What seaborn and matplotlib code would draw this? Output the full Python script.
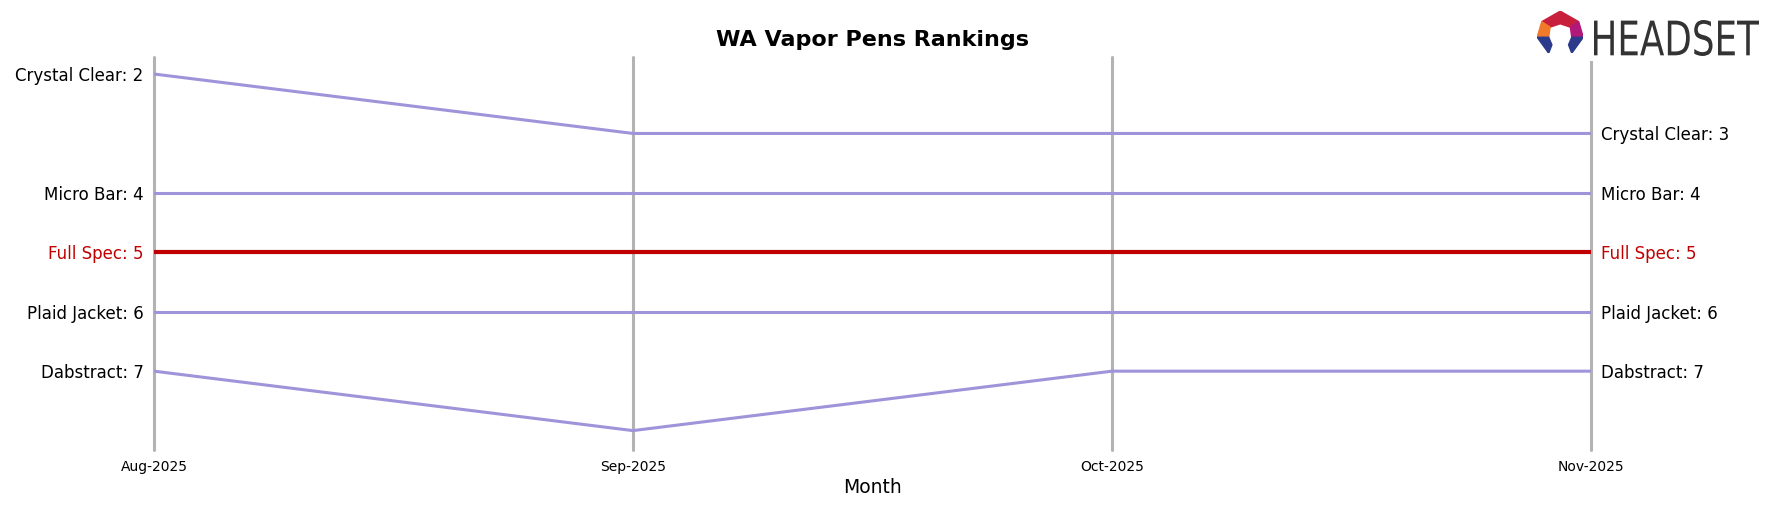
import pandas as pd
import seaborn as sns
import matplotlib.pyplot as plt
from matplotlib.patches import Polygon, PathPatch, Rectangle
from matplotlib.textpath import TextPath
from matplotlib.font_manager import FontProperties
from matplotlib.transforms import Affine2D, IdentityTransform

months = ["Aug-2025", "Sep-2025", "Oct-2025", "Nov-2025"]
brands = ["Crystal Clear", "Micro Bar", "Full Spec", "Plaid Jacket", "Dabstract"]
crystal_clear = [2, 3, 3, 3]
micro_bar = [4, 4, 4, 4]
full_spec = [5, 5, 5, 5]
plaid_jacket = [6, 6, 6, 6]
dabstract = [7, 8, 7, 7]
highlight = "Full Spec"

ranks = dict(zip(brands, [crystal_clear, micro_bar, full_spec, plaid_jacket, dabstract]))
df = pd.DataFrame([
    {"brand": b, "month": m, "x": i, "rank": r}
    for b in brands for i, (m, r) in enumerate(zip(months, ranks[b]))
])

purple = "#9f93da"
red = "#c00000"
palette = {b: (red if b == highlight else purple) for b in brands}

sns.set_style("white")
plt.rcParams["text.color"] = "black"
plt.rcParams["axes.labelcolor"] = "black"
plt.rcParams["xtick.color"] = "black"
fig = plt.figure(figsize=(17.75, 5.07), dpi=100)
ax = fig.add_axes([0.0868, 0.112, 0.8094, 0.776])

for i in range(len(months)):
    ax.axvline(i, color="#b3b3b3", lw=2.2, zorder=1, clip_on=False)

sns.lineplot(data=df[df.brand != highlight], x="x", y="rank", hue="brand",
             palette=palette, lw=2.2, legend=False, ax=ax, zorder=2)
sns.lineplot(data=df[df.brand == highlight], x="x", y="rank", hue="brand",
             palette=palette, lw=3, legend=False, ax=ax, zorder=3)

# labels at both ends
for b in brands:
    c = red if b == highlight else "black"
    first, last = ranks[b][0], ranks[b][-1]
    ax.text(-0.022, first, f"{b}: {first}", ha="right", va="center_baseline", fontsize=12, color=c)
    ax.text(len(months) - 1 + 0.022, last, f"{b}: {last}", ha="left", va="center_baseline",
            fontsize=12, color=c)

ax.set_xlim(0, len(months) - 1)
ax.set_ylim(8.33, 1.71)
ax.set_xticks(range(len(months)))
ax.set_xticklabels(months, fontsize=10)
ax.set_yticks([])
ax.tick_params(axis="x", length=4, width=1, color="black", pad=3)
for s in ax.spines.values():
    s.set_visible(False)
ax.set_xlabel("Month", fontsize=13.5, labelpad=3)
ax.set_ylabel("")
ax.set_title("WA Vapor Pens Rankings", fontsize=16, fontweight="bold", pad=8, color="black")

# headset logo (white box behind it cuts the top of the last gridline)
fig.add_artist(Rectangle((0.86, 0.88), 0.14, 0.12, transform=fig.transFigure,
                         facecolor="white", edgecolor="none", zorder=5))
logo = fig.add_axes([0.866, 0.895, 0.026, 0.083], zorder=6)
logo.set_xlim(0, 1)
logo.set_ylim(0, 1)
logo.axis("off")
logo.add_patch(Polygon([[0.1, 0.75], [0.5, 1.0], [0.9, 0.75], [0.72, 0.62], [0.5, 0.7], [0.28, 0.62]],
                       color="#c8203c"))
logo.add_patch(Polygon([[0.1, 0.75], [0.28, 0.62], [0.25, 0.38], [0.0, 0.38]], color="#f07a2a"))
logo.add_patch(Polygon([[0.9, 0.75], [0.72, 0.62], [0.75, 0.38], [1.0, 0.38]], color="#b0187a"))
logo.add_patch(Polygon([[0.0, 0.38], [0.25, 0.38], [0.32, 0.2], [0.25, 0.0]], color="#2c3a8c"))
logo.add_patch(Polygon([[1.0, 0.38], [0.75, 0.38], [0.68, 0.2], [0.75, 0.0]], color="#2c3a8c"))

# condensed wordmark: DejaVu text squeezed horizontally into the logo box
tp = TextPath((0, 0), "HEADSET", size=100, prop=FontProperties(family="DejaVu Sans"))
bb = tp.get_extents()
x0, x1, y0, y1 = 1594, 1759, 507 - 56, 507 - 20
tr = Affine2D().translate(-bb.x0, -bb.y0).scale((x1 - x0) / bb.width, (y1 - y0) / bb.height).translate(x0, y0)
fig.add_artist(PathPatch(tp, transform=tr + IdentityTransform(), facecolor="#333333",
                         edgecolor="none", zorder=7))

fig.savefig("out.png", dpi=100)
